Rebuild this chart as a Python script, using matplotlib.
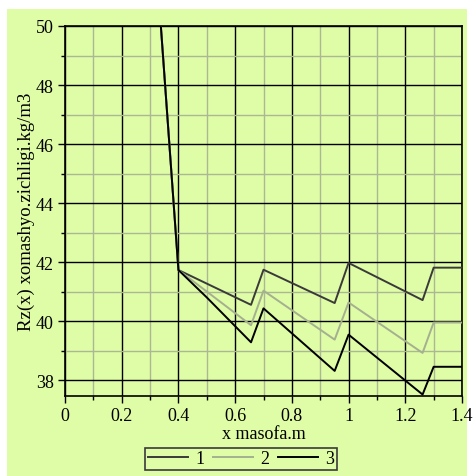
import matplotlib
matplotlib.use('Agg')
import matplotlib.pyplot as plt
from matplotlib.patches import Rectangle
from matplotlib.ticker import MultipleLocator

plt.rcParams['font.family'] = ['Liberation Serif', 'DejaVu Serif']

# shared start of all three curves
x_head = [0, 0.338, 0.4]
y_head = [50, 50, 41.73]

x1 = [0.656, 0.70, 0.951, 1.0, 1.261, 1.30, 1.40]
y1 = [40.55, 41.74, 40.61, 41.97, 40.71, 41.81, 41.81]

x2 = [0.656, 0.70, 0.951, 1.0, 1.261, 1.30, 1.40]
y2 = [39.86, 41.03, 39.37, 40.63, 38.92, 39.95, 39.95]

x3 = [0.5, 0.656, 0.70, 0.951, 1.0, 1.261, 1.30, 1.40]
y3 = [40.80, 39.28, 40.43, 38.31, 39.54, 37.51, 38.45, 38.45]

labels = ['1', '2', '3']
colors = ['#3a3a3a', '#a4b090', '#000000']

bg = '#dffca6'

fig = plt.figure(figsize=(4.76, 4.77), dpi=100)
fig.patches.append(Rectangle((7/476, 0), 460/476, 467/477, transform=fig.transFigure,
                             facecolor=bg, edgecolor='none', zorder=-10))
ax = fig.add_axes([65/476, 80/477, 397/476, 370/477])
ax.set_facecolor(bg)

series = [(x1, y1), (x2, y2), (x3, y3)]
for (xs, ys), lab, c in zip(series, labels, colors):
    ax.plot(x_head + xs, y_head + ys, color=c, lw=1.4, label=lab, zorder=3)

ax.set_xlim(0, 1.4)
ax.set_ylim(37.46, 50)
ax.xaxis.set_major_locator(MultipleLocator(0.2))
ax.xaxis.set_minor_locator(MultipleLocator(0.1))
ax.yaxis.set_major_locator(MultipleLocator(2))
ax.yaxis.set_minor_locator(MultipleLocator(1))
ax.set_xticks([0, 0.2, 0.4, 0.6, 0.8, 1.0, 1.2, 1.4])
ax.set_xticklabels(['0', '0.2', '0.4', '0.6', '0.8', '1', '1.2', '1.4'])

ax.grid(which='major', color='black', lw=1.0, zorder=1)
ax.grid(which='minor', color='#aab894', lw=1.0, zorder=0.9)
ax.set_axisbelow(True)
for s in ax.spines.values():
    s.set_color('black')
    s.set_linewidth(1.2)

ax.tick_params(which='major', length=5, width=1, labelsize=13, colors='black', pad=3)
ax.tick_params(which='minor', length=3, width=1)

ax.set_xlabel('x masofa.m', fontsize=13, labelpad=1)
ax.set_ylabel('Rz(x) xomashyo.zichligi.kg/m3', fontsize=13.5, labelpad=0.5)

leg = fig.legend(loc='center', bbox_to_anchor=(241/476, 17/477), ncol=3, fontsize=13,
                 handlelength=2.2, columnspacing=0.5, handletextpad=0.4,
                 fancybox=False, framealpha=1, facecolor=bg, edgecolor='#3a3a3a',
                 borderpad=0.15, borderaxespad=0)
leg.get_frame().set_linewidth(1.2)

fig.savefig('out.png', dpi=100)
